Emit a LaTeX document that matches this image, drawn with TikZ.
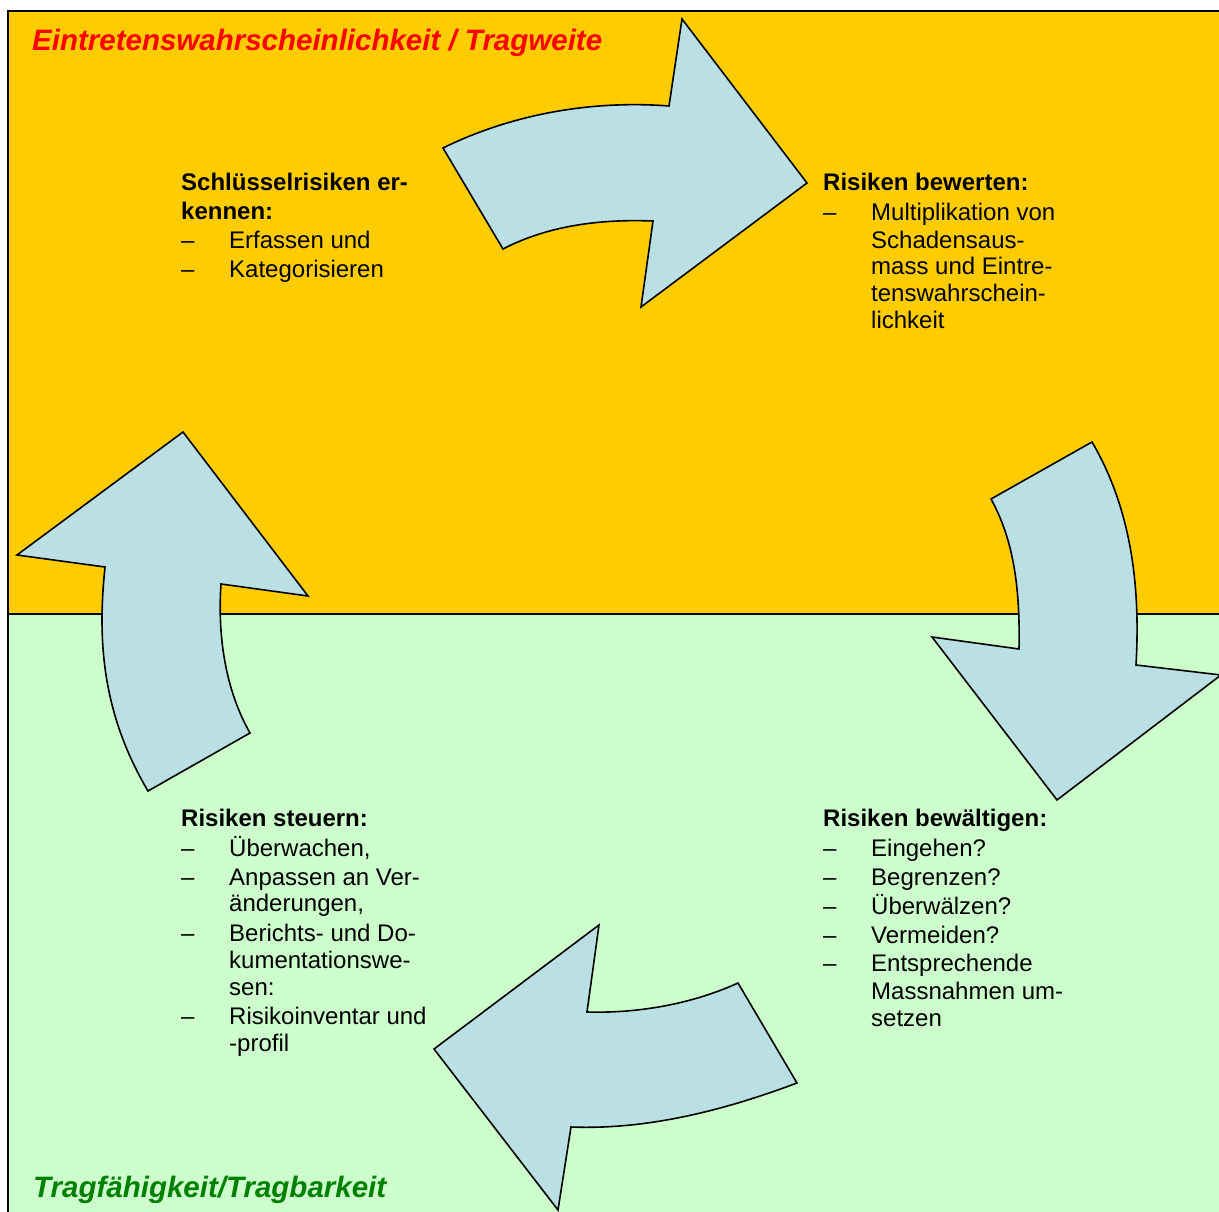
\documentclass[tikz,border=0pt]{standalone}
\usepackage{fontspec}
\setmainfont{Liberation Sans}
\definecolor{ylw}{RGB}{255,204,0}
\definecolor{grn}{RGB}{204,255,204}
\definecolor{arw}{RGB}{187,224,227}
\definecolor{ttlred}{RGB}{255,0,0}
\definecolor{ttlgreen}{RGB}{0,128,0}
\begin{document}
\begin{tikzpicture}[x=1pt,y=-1pt,
 txt/.style={anchor=base west,inner sep=0pt,font=\fontsize{24}{29}\selectfont},
 hd/.style={anchor=base west,inner sep=0pt,font=\fontsize{24}{29}\selectfont\bfseries},
 ttl/.style={anchor=base west,inner sep=0pt,font=\fontsize{29.5}{34}\selectfont\bfseries\itshape},
 arrowshape/.style={draw=black,line width=1.6pt,fill=arw,line join=miter}]
\useasboundingbox (0,0) rectangle (1219,1212);
\clip (0,0) rectangle (1219,1212);
% background panels
\fill[ylw] (8,11) rectangle (1230,614);
\fill[grn] (8,614) rectangle (1230,1230);
\draw[line width=2pt] (8,1230) -- (8,11) -- (1230,11);
\draw[line width=1.5pt] (8,614) -- (1230,614);
% top arrow (pointing right)
\draw[arrowshape] (443,148) .. controls (512,114) and (592,100) .. (669,106)
  -- (682,19) -- (807,183) -- (641,307) -- (653,221)
  .. controls (602,219) and (549,225) .. (503,249) -- cycle;
% right arrow (pointing down)
\draw[arrowshape] (1092,442) -- (991,499) .. controls (1016,544) and (1020,597) .. (1019,649)
  -- (932,637) -- (1057,800) -- (1221,675) -- (1136,665)
  .. controls (1141,580) and (1129,505) .. (1092,442) -- cycle;
% bottom arrow (pointing left)
\draw[arrowshape] (599,925) -- (587,1012) .. controls (638,1013.5) and (692,1004) .. (738,983)
  -- (797,1083) .. controls (725,1110) and (648,1130) .. (571,1127)
  -- (558,1210) -- (434,1049) -- cycle;
% left arrow (pointing up)
\draw[arrowshape] (183,432) -- (308,596) -- (221,584) .. controls (217.5,635) and (225,689) .. (250,733)
  -- (148,791) .. controls (100,710) and (98,635) .. (105,567)
  -- (17,555) -- cycle;
% titles
\node[ttl,text=ttlred] (ttop) at (32,51) {Eintretenswahrscheinlichkeit / Tragweite};
\node[ttl,text=ttlgreen] (tbot) at (33,1197) {Tragfähigkeit/Tragbarkeit};
% block 1
\node[hd] (a1) at (181,191) {Schlüsselrisiken er-};
\node[hd] (a2) at (181,219) {kennen:};
\node[txt] (a3d) at (181,248) {–};
\node[txt] (a3) at (229,248) {Erfassen und};
\node[txt] (a4d) at (181,277) {–};
\node[txt] (a4) at (229,277) {Kategorisieren};
% block 2
\node[hd] (b1) at (823,191) {Risiken bewerten:};
\node[txt] (b2d) at (823,220) {–};
\node[txt] (b2) at (871,220) {Multiplikation von};
\node[txt] (b3) at (871,248) {Schadensaus-};
\node[txt] (b4) at (871,274) {mass und Eintre-};
\node[txt] (b5) at (871,301) {tenswahrschein-};
\node[txt] (b6) at (871,328) {lichkeit};
% block 3
\node[hd] (c1) at (823,826) {Risiken bewältigen:};
\node[txt] (c2d) at (823,856) {–};
\node[txt] (c2) at (871,856) {Eingehen?};
\node[txt] (c3d) at (823,885) {–};
\node[txt] (c3) at (871,885) {Begrenzen?};
\node[txt] (c4d) at (823,914) {–};
\node[txt] (c4) at (871,914) {Überwälzen?};
\node[txt] (c5d) at (823,943) {–};
\node[txt] (c5) at (871,943) {Vermeiden?};
\node[txt] (c6d) at (823,971) {–};
\node[txt] (c6) at (871,971) {Entsprechende};
\node[txt] (c7) at (871,999) {Massnahmen um-};
\node[txt] (c8) at (871,1026) {setzen};
% block 4
\node[hd] (d1) at (181,826) {Risiken steuern:};
\node[txt] (d2d) at (181,856) {–};
\node[txt] (d2) at (229,856) {Überwachen,};
\node[txt] (d3d) at (181,885) {–};
\node[txt] (d3) at (229,885) {Anpassen an Ver-};
\node[txt] (d4) at (229,911) {änderungen,};
\node[txt] (d5d) at (181,941) {–};
\node[txt] (d5) at (229,941) {Berichts- und Do-};
\node[txt] (d6) at (229,968) {kumentationswe-};
\node[txt] (d7) at (229,995) {sen:};
\node[txt] (d8d) at (181,1024) {–};
\node[txt] (d8) at (229,1024) {Risikoinventar und};
\node[txt] (d9) at (229,1051) {-profil};
\end{tikzpicture}
\end{document}
